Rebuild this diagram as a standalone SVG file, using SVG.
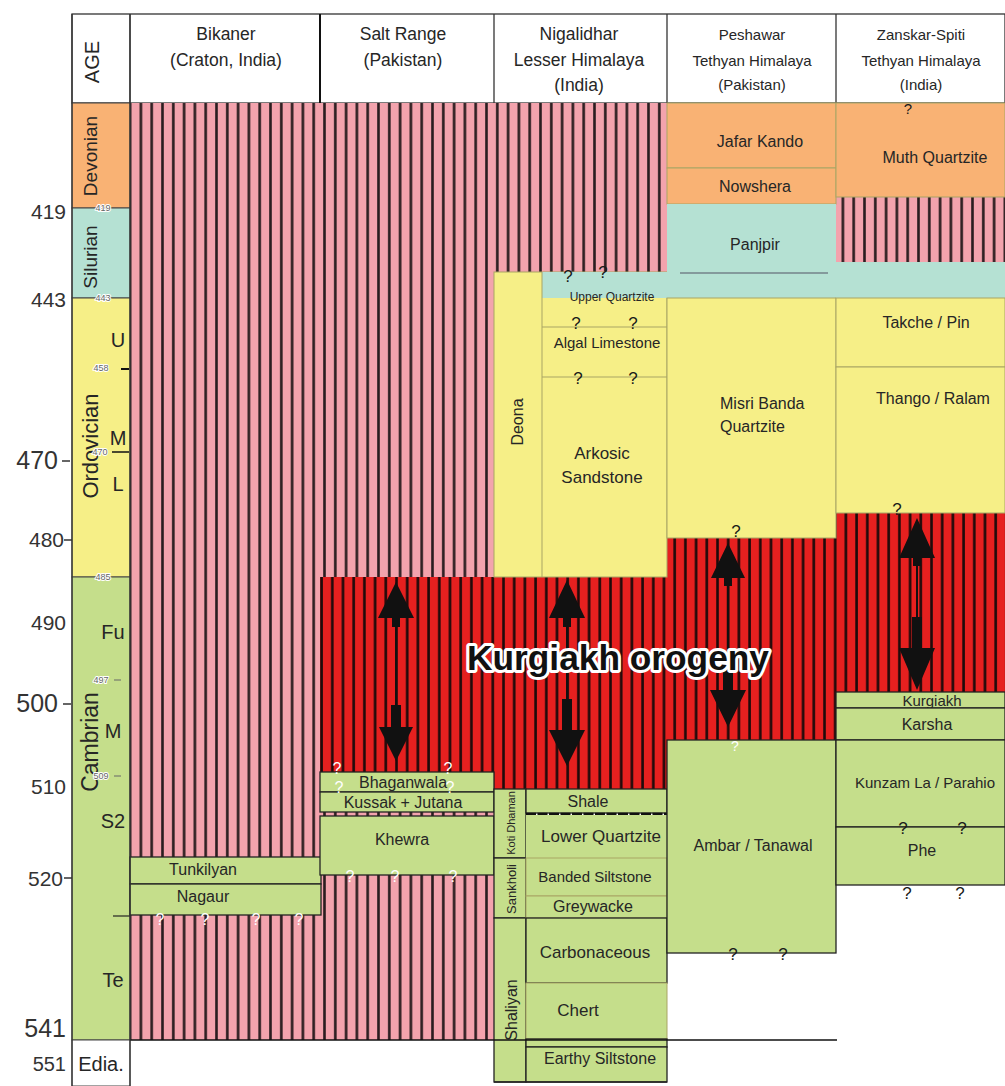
<svg xmlns="http://www.w3.org/2000/svg" width="1005" height="1086" viewBox="0 0 1005 1086">
<defs>
<pattern id="pinkHatch" patternUnits="userSpaceOnUse" x="2" y="0" width="10.8" height="20"><rect width="10.8" height="20" fill="#f3a3ad"/><rect x="8" width="2.6" height="20" fill="#2a1c1e"/></pattern>
<pattern id="redHatch" patternUnits="userSpaceOnUse" x="2" y="0" width="10.7" height="20"><rect width="10.7" height="20" fill="#e6201f"/><rect x="8" width="2.6" height="20" fill="#1e0a0a"/></pattern>
<style>
text{font-family:"Liberation Sans",Arial,sans-serif;fill:#262626}
.h{font-size:17.5px;text-anchor:middle}
.hs{font-size:15px;text-anchor:middle}
.u{font-size:16px;text-anchor:middle}
.us{font-size:15px;text-anchor:middle}
.ul{font-size:17px;text-anchor:middle}
.num{font-size:21px;text-anchor:end;fill:#333}
.big{font-size:25px;text-anchor:end;fill:#333}
.per{font-size:20px;text-anchor:middle}
.sub{font-size:20px;text-anchor:middle}
.sm{font-size:9px;text-anchor:middle;fill:#666;stroke:#fff;stroke-width:2;paint-order:stroke}
.q{font-size:17px;text-anchor:middle;fill:#1a1a1a}
.qw{font-size:16px;text-anchor:middle;fill:#fff}
.org{fill:#f9b274}.sil{fill:#b5e1d3}.ord{fill:#f6ef87}.cam{fill:#c5de8b}
.ol{stroke:#a9a565;stroke-width:1}
.dk{stroke:#222;stroke-width:1.3}
.arr{fill:#111}
</style>
</defs>

<!-- header -->
<g id="header">
<rect x="72" y="14" width="933" height="89" fill="#fff" stroke="#333" stroke-width="1.3"/>
<line x1="130" y1="14" x2="130" y2="103" stroke="#333" stroke-width="1.3"/>
<line x1="320" y1="14" x2="320" y2="103" stroke="#111" stroke-width="2"/>
<line x1="494" y1="14" x2="494" y2="103" stroke="#333" stroke-width="1.3"/>
<line x1="667" y1="14" x2="667" y2="103" stroke="#333" stroke-width="1.3"/>
<line x1="836" y1="14" x2="836" y2="103" stroke="#333" stroke-width="1.3"/>
<text class="h" transform="translate(99,62) rotate(-90)" style="font-size:20px">AGE</text>
<text class="h" x="226" y="40">Bikaner</text>
<text class="h" x="226" y="66">(Craton, India)</text>
<text class="h" x="403" y="40">Salt Range</text>
<text class="h" x="403" y="66">(Pakistan)</text>
<text class="h" x="579" y="40">Nigalidhar</text>
<text class="h" x="579" y="66">Lesser Himalaya</text>
<text class="h" x="579" y="91">(India)</text>
<text class="hs" x="752" y="40">Peshawar</text>
<text class="hs" x="752" y="66">Tethyan Himalaya</text>
<text class="hs" x="752" y="90">(Pakistan)</text>
<text class="hs" x="921" y="40">Zanskar-Spiti</text>
<text class="hs" x="921" y="66">Tethyan Himalaya</text>
<text class="hs" x="921" y="90">(India)</text>
</g>

<!-- age column -->
<g id="age-column">
<rect x="72" y="103" width="58" height="105" class="org" stroke="#444" stroke-width="1"/>
<rect x="72" y="208" width="58" height="90" class="sil" stroke="#444" stroke-width="1"/>
<rect x="72" y="298" width="58" height="279" class="ord" stroke="#444" stroke-width="1"/>
<rect x="72" y="577" width="58" height="463" class="cam" stroke="#444" stroke-width="1"/>
<rect x="72" y="1040" width="58" height="46" fill="#fff" stroke="#444" stroke-width="1"/>
<text class="per" transform="translate(97,156) rotate(-90)" style="font-size:19px">Devonian</text>
<text class="per" transform="translate(97,257) rotate(-90)" style="font-size:19px">Silurian</text>
<text class="per" transform="translate(98,446) rotate(-90)" style="font-size:22px">Ordovician</text>
<text class="per" transform="translate(98,742) rotate(-90)" style="font-size:23px">Cambrian</text>
<text class="sub" x="118" y="347">U</text>
<text class="sub" x="118" y="445">M</text>
<text class="sub" x="118" y="491">L</text>
<text class="sub" x="113" y="639">Fu</text>
<text class="sub" x="113" y="738">M</text>
<text class="sub" x="113" y="828">S2</text>
<text class="sub" x="113" y="987">Te</text>
<text class="per" x="101" y="1071">Edia.</text>
<text class="sm" x="103" y="211">419</text>
<text class="sm" x="103" y="301">443</text>
<text class="sm" x="101" y="371">458</text>
<line x1="121" y1="369" x2="129" y2="369" stroke="#111" stroke-width="2"/>
<text class="sm" x="100" y="455">470</text>
<line x1="112" y1="452" x2="129" y2="452" stroke="#111" stroke-width="1.5"/>
<text class="sm" x="103" y="580">485</text>
<text class="sm" x="101" y="683">497</text>
<line x1="114" y1="680" x2="121" y2="680" stroke="#666" stroke-width="1"/>
<text class="sm" x="101" y="779">509</text>
<line x1="114" y1="776" x2="121" y2="776" stroke="#666" stroke-width="1"/>
</g>

<g id="age-scale">
<text class="num" x="66" y="219">419</text>
<text class="num" x="66" y="307">443</text>
<text class="big" x="58" y="469">470</text>
<line x1="62" y1="461" x2="70" y2="461" stroke="#333" stroke-width="1.5"/>
<text class="num" x="64" y="547">480</text>
<line x1="64" y1="540" x2="72" y2="540" stroke="#333" stroke-width="1.5"/>
<text class="num" x="66" y="630">490</text>
<text class="big" x="58" y="712">500</text>
<line x1="63" y1="704" x2="71" y2="704" stroke="#333" stroke-width="1.5"/>
<text class="num" x="66" y="794">510</text>
<text class="num" x="63" y="886">520</text>
<line x1="64" y1="878" x2="72" y2="878" stroke="#333" stroke-width="1.5"/>
<text class="big" x="66" y="1037">541</text>
<text class="num" x="66" y="1071" style="font-size:20px">551</text>
</g>

<!-- hatched background areas -->
<g id="hiatus-pink">
<rect x="130" y="103" width="190" height="937" fill="url(#pinkHatch)"/>
<rect x="320" y="103" width="174" height="474" fill="url(#pinkHatch)"/>
<rect x="320" y="812" width="174" height="228" fill="url(#pinkHatch)"/>
<rect x="494" y="103" width="173" height="169" fill="url(#pinkHatch)"/>
<rect x="836" y="197" width="169" height="65" fill="url(#pinkHatch)"/>
</g>
<g id="kurgiakh-orogeny-zone">
<path d="M320,577 H667 V538 H836 V513 H1005 V692 H836 V740 H667 V789 H494 V772 H320 Z" fill="url(#redHatch)"/>
</g>

<!-- Bikaner -->
<g id="tunkilyan"><rect x="130" y="857" width="191" height="27" class="cam dk"/><text class="u" x="203" y="875">Tunkilyan</text></g>
<g id="nagaur"><rect x="130" y="884" width="191" height="31" class="cam dk"/><text class="u" x="203" y="902">Nagaur</text></g>
<line x1="113" y1="916" x2="130" y2="916" stroke="#222" stroke-width="1.2"/>
<g id="bikaner-q"><text class="qw" x="160" y="925">?</text><text class="qw" x="205" y="925">?</text><text class="qw" x="256" y="925">?</text><text class="qw" x="299" y="925">?</text></g>

<!-- Salt Range -->
<g id="bhaganwala"><rect x="320" y="772" width="174" height="20" class="cam dk"/><text class="u" x="403" y="788">Bhaganwala</text></g>
<g id="kussak-jutana"><rect x="320" y="792" width="174" height="20" class="cam dk"/><text class="u" x="403" y="808">Kussak + Jutana</text></g>
<g id="khewra"><rect x="320" y="816" width="174" height="59" class="cam dk"/><text class="u" x="402" y="845">Khewra</text></g>
<g id="saltrange-q"><text class="qw" x="337" y="774">?</text><text class="qw" x="339" y="793">?</text><text class="qw" x="448" y="774">?</text><text class="qw" x="450" y="793">?</text><text class="qw" x="350" y="882">?</text><text class="qw" x="395" y="882">?</text><text class="qw" x="453" y="882">?</text></g>

<!-- Nigalidhar -->
<g id="deona-block">
<rect x="494" y="272" width="173" height="305" class="ord ol"/>
<rect x="542" y="272" width="463" height="26" class="sil"/>
<line x1="542" y1="272" x2="542" y2="577" class="ol"/>
<line x1="542" y1="327" x2="667" y2="327" class="ol"/>
<line x1="542" y1="377" x2="667" y2="377" class="ol"/>
<text class="u" transform="translate(523,422) rotate(-90)">Deona</text>
</g>
<g id="upper-quartzite"><text x="612" y="301" style="font-size:12px;text-anchor:middle">Upper Quartzite</text></g>
<g id="algal-limestone"><text x="607" y="348" style="font-size:15px;text-anchor:middle">Algal Limestone</text></g>
<g id="arkosic-sandstone"><text class="ul" x="602" y="459">Arkosic</text><text class="ul" x="602" y="483">Sandstone</text></g>
<g id="nigalidhar-q"><text class="q" x="568" y="282">?</text><text class="q" x="603" y="278">?</text><text class="q" x="576" y="329">?</text><text class="q" x="633" y="329">?</text><text class="q" x="578" y="384">?</text><text class="q" x="633" y="384">?</text></g>

<g id="koti-dhaman"><rect x="494" y="789" width="32" height="69" class="cam dk"/><text transform="translate(515,823) rotate(-90)" style="font-size:11px;text-anchor:middle">Koti Dhaman</text></g>
<g id="sankholi"><rect x="494" y="858" width="32" height="60" class="cam dk"/><text transform="translate(516,889) rotate(-90)" style="font-size:13px;text-anchor:middle">Sankholi</text></g>
<g id="shaliyan"><rect x="494" y="918" width="32" height="164" class="cam dk"/><text class="u" transform="translate(517,1010) rotate(-90)">Shaliyan</text></g>
<g id="shale"><rect x="526" y="789" width="141" height="24" class="cam dk"/><text class="u" x="588" y="807">Shale</text></g>
<line x1="526" y1="814" x2="667" y2="814" stroke="#111" stroke-width="2.6" stroke-dasharray="10 1.5"/>
<g id="lower-quartzite"><rect x="526" y="815" width="141" height="43" class="cam"/><text class="ul" x="601" y="842">Lower Quartzite</text></g>
<g id="banded-siltstone"><rect x="526" y="858" width="141" height="38" class="cam ol"/><text class="us" x="595" y="882">Banded Siltstone</text></g>
<g id="greywacke"><rect x="526" y="896" width="141" height="22" class="cam ol"/><text class="u" x="593" y="912">Greywacke</text></g>
<g id="carbonaceous"><rect x="526" y="918" width="141" height="65" class="cam dk"/><text class="ul" x="595" y="958">Carbonaceous</text></g>
<g id="chert"><rect x="526" y="983" width="141" height="56" class="cam ol"/><text class="ul" x="578" y="1016">Chert</text></g>
<rect x="526" y="1039" width="141" height="8" class="cam dk"/>
<g id="earthy-siltstone"><rect x="526" y="1047" width="141" height="35" class="cam dk"/><text class="u" x="600" y="1064">Earthy Siltstone</text></g>
<line x1="494" y1="1082" x2="667" y2="1082" stroke="#222" stroke-width="1.5"/>

<!-- Peshawar -->
<g id="jafar-kando"><rect x="667" y="103" width="169" height="65" class="org ol"/><text class="u" x="760" y="147">Jafar Kando</text></g>
<g id="nowshera"><rect x="667" y="168" width="169" height="36" class="org ol"/><text class="u" x="755" y="192">Nowshera</text></g>
<g id="panjpir"><rect x="667" y="204" width="169" height="94" class="sil"/><line x1="680" y1="273" x2="828" y2="273" stroke="#556" stroke-width="1.2"/><text class="u" x="755" y="250">Panjpir</text></g>
<g id="misri-banda"><rect x="667" y="298" width="169" height="240" class="ord ol"/><text x="720" y="409" style="font-size:16px">Misri Banda</text><text x="720" y="432" style="font-size:16px">Quartzite</text></g>
<g id="ambar-tanawal"><rect x="667" y="740" width="169" height="213" class="cam dk"/><text class="u" x="753" y="851">Ambar / Tanawal</text></g>
<g id="peshawar-q"><text class="q" x="736" y="537">?</text><text class="qw" x="735" y="751" style="font-size:14px">?</text><text class="q" x="733" y="960">?</text><text class="q" x="783" y="960">?</text></g>

<!-- Zanskar-Spiti -->
<g id="muth-quartzite"><rect x="836" y="103" width="169" height="94" class="org ol"/><text class="u" x="935" y="163">Muth Quartzite</text></g>
<rect x="836" y="262" width="169" height="36" class="sil"/>
<g id="takche-pin"><rect x="836" y="298" width="169" height="69" class="ord ol"/><text class="u" x="926" y="328">Takche / Pin</text></g>
<g id="thango-ralam"><rect x="836" y="367" width="169" height="146" class="ord ol"/><text class="u" x="933" y="404">Thango / Ralam</text></g>
<g id="kurgiakh"><rect x="836" y="692" width="169" height="16" class="cam dk"/><text class="us" x="932" y="706">Kurgiakh</text></g>
<g id="karsha"><rect x="836" y="708" width="169" height="32" class="cam dk"/><text class="u" x="927" y="730">Karsha</text></g>
<g id="kunzam-la"><rect x="836" y="740" width="169" height="87" class="cam dk"/><text class="us" x="925" y="788">Kunzam La / Parahio</text></g>
<g id="phe"><rect x="836" y="827" width="169" height="58" class="cam dk"/><text class="u" x="922" y="856">Phe</text></g>
<g id="zanskar-q"><text class="q" x="908" y="114" style="font-size:15px">?</text><text class="q" x="897" y="515">?</text><text class="q" x="903" y="834">?</text><text class="q" x="962" y="834">?</text><text class="q" x="907" y="899">?</text><text class="q" x="960" y="899">?</text></g>

<line x1="130" y1="1040" x2="837" y2="1040" stroke="#111" stroke-width="1.5"/>
<line x1="72" y1="14" x2="72" y2="1086" stroke="#333" stroke-width="1.3"/>
<line x1="130" y1="14" x2="130" y2="1086" stroke="#333" stroke-width="1.3"/>

<!-- connectors: orogeny arrows -->
<g id="connectors">
<path class="arr" d="M396,582 L414,618 L400,618 L400,627 L392,627 L392,618 L378,618 Z"/>
<line x1="396" y1="626" x2="396" y2="706" stroke="#111" stroke-width="2"/>
<path class="arr" d="M391,705 L401,705 L401,727 L413,727 L396,761 L379,727 L391,727 Z"/>
<path class="arr" d="M567,580 L585,618 L571,618 L571,627 L563,627 L563,618 L549,618 Z"/>
<line x1="567" y1="626" x2="567" y2="700" stroke="#111" stroke-width="2"/>
<path class="arr" d="M562,699 L572,699 L572,730 L585,730 L567,766 L549,730 L562,730 Z"/>
<path class="arr" d="M728,543 L745,578 L732,578 L732,586 L724,586 L724,578 L711,578 Z"/>
<line x1="728" y1="585" x2="728" y2="668" stroke="#111" stroke-width="2"/>
<path class="arr" d="M723,667 L733,667 L733,690 L746,690 L728,727 L710,690 L723,690 Z"/>
<path class="arr" d="M917,518 L935,558 L921,558 L921,566 L913,566 L913,558 L899,558 Z"/>
<line x1="917" y1="566" x2="917" y2="618" stroke="#111" stroke-width="2"/>
<path class="arr" d="M912,617 L922,617 L922,648 L935,648 L917,690 L899,648 L912,648 Z"/>
</g>

<g id="orogeny-label">
<text x="618" y="670" textLength="302" lengthAdjust="spacingAndGlyphs" style="font-size:35px;font-weight:bold;text-anchor:middle;fill:#111;stroke:#fff;stroke-width:6;stroke-linejoin:round;paint-order:stroke">Kurgiakh orogeny</text>
</g>
</svg>
